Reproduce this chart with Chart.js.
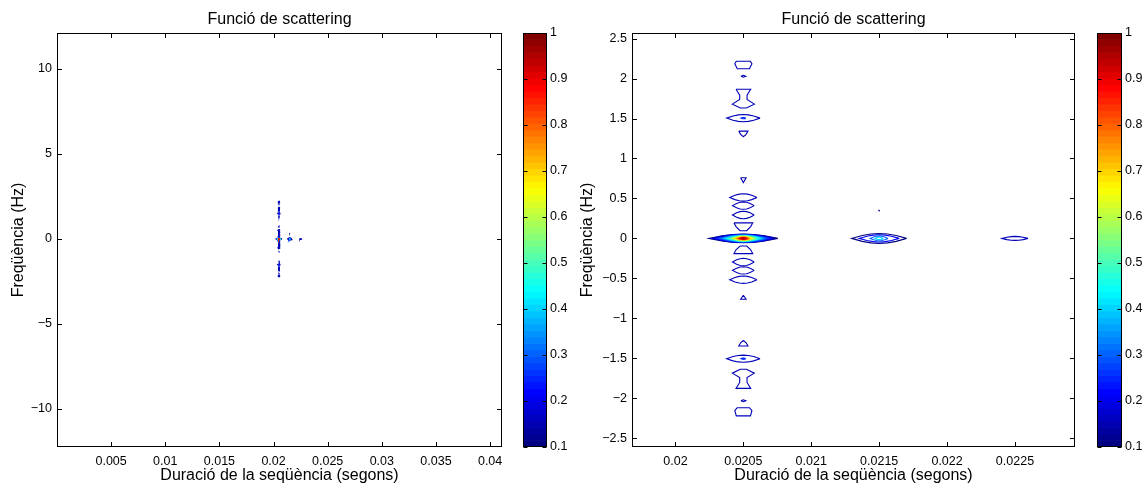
<!DOCTYPE html>
<html>
<head>
<meta charset="utf-8">
<script src="https://cdn.jsdelivr.net/npm/chart.js@4.4.1/dist/chart.umd.min.js"></script>
<style>
  html,body{margin:0;padding:0;background:#fff;}
  body{width:1147px;height:488px;position:relative;overflow:hidden;}
  canvas{position:absolute;top:0;}
</style>
</head>
<body>
<canvas id="leftPlot" width="515" height="488" style="left:0px"></canvas>
<canvas id="leftBar" width="55" height="488" style="left:515px"></canvas>
<canvas id="rightPlot" width="520" height="488" style="left:570px"></canvas>
<canvas id="rightBar" width="57" height="488" style="left:1090px"></canvas>
<script>
// ---------------- DATA ----------------
const plotTitle = 'Funció de scattering';
const xAxisTitle = 'Duració de la seqüència (segons)';
const yAxisTitle = 'Freqüència (Hz)';

// tick values and labels
const leftXTicks = [0.005, 0.01, 0.015, 0.02, 0.025, 0.03, 0.035, 0.04];
const leftXLabels = ['0.005', '0.01', '0.015', '0.02', '0.025', '0.03', '0.035', '0.04'];
const leftYTicks = [-10, -5, 0, 5, 10];
const leftYLabels = ['\u221210', '\u22125', '0', '5', '10'];
const rightXTicks = [0.02, 0.0205, 0.021, 0.0215, 0.022, 0.0225];
const rightXLabels = ['0.02', '0.0205', '0.021', '0.0215', '0.022', '0.0225'];
const rightYTicks = [-2.5, -2, -1.5, -1, -0.5, 0, 0.5, 1, 1.5, 2, 2.5];
const rightYLabels = ['\u22122.5', '\u22122', '\u22121.5', '\u22121', '\u22120.5', '0', '0.5', '1', '1.5', '2', '2.5'];
const colorbarTicks = [0.1, 0.2, 0.3, 0.4, 0.5, 0.6, 0.7, 0.8, 0.9, 1];
const colorbarLabels = ['0.1', '0.2', '0.3', '0.4', '0.5', '0.6', '0.7', '0.8', '0.9', '1'];

// axis ranges
const leftXRange = [0, 0.0411];
const leftYRange = [-12.24, 12.12];
const rightXRange = [0.01968, 0.022942];
const rightYRange = [-2.61, 2.57];
const colorRange = [0.1, 1];

// delays (s) of the three peaks on the zero-Doppler line
const peakDelays = [0.0205, 0.0215, 0.0225];

// main peak (0.0205 s, 0 Hz): contour levels, half-width (µs) and half-height (Hz)
const mainLevels = [0.10, 0.15, 0.20, 0.25, 0.30, 0.35, 0.40, 0.45, 0.50, 0.55, 0.60, 0.65, 0.70, 0.75, 0.80, 0.85, 0.90, 0.95];
const mainHalfWidthUs = [254, 232, 212, 190, 170, 152, 135, 118, 102, 90, 78, 66, 56, 47, 39, 32, 25, 16];
const mainHalfHeightHz = [0.055, 0.052, 0.049, 0.046, 0.043, 0.040, 0.037, 0.034, 0.031, 0.028, 0.025, 0.022, 0.020, 0.017, 0.015, 0.012, 0.010, 0.007];

// second peak (0.0215 s, 0 Hz)
const secondLevels = [0.10, 0.20, 0.30, 0.40];
const secondHalfWidthUs = [202, 147, 66, 30];
const secondHalfHeightHz = [0.062, 0.045, 0.030, 0.015];

// third peak (0.0225 s, 0 Hz)
const thirdLevels = [0.15];
const thirdHalfWidthUs = [96];
const thirdHalfHeightHz = [0.025];

// lens-shaped side lobes along the 0.0205 s column
const lobeCentresHz = [1.505, -1.505, 1.505, -1.505, 0.513, -0.517, 0.41, -0.40, 0.293, -0.296];
const lobeHalfWidthUs = [123, 123, 18, 18, 100, 100, 80, 80, 80, 80];
const lobeHalfHeightHz = [0.045, 0.045, 0.008, 0.008, 0.046, 0.046, 0.046, 0.046, 0.047, 0.047];
const lobeLevels = [0.15, 0.15, 0.25, 0.25, 0.15, 0.15, 0.15, 0.15, 0.15, 0.15];

// irregular side lobes on the 0.0205 s column: [offset µs, frequency Hz]
const shieldUpper = [[-52, 2.217], [52, 2.217], [63, 2.185], [45, 2.122], [-45, 2.122], [-63, 2.185]];
const shieldLower = [[-45, -2.118], [45, -2.118], [63, -2.155], [52, -2.221], [-52, -2.221], [-63, -2.155]];
const dotUpper = [[-18, 2.028], [0, 2.040], [18, 2.028], [0, 2.016]];
const dotLower = [[-18, -2.032], [0, -2.020], [18, -2.032], [0, -2.044]];
const hourglassUpper = [[-54, 1.866], [54, 1.866], [27, 1.792], [27, 1.738], [81, 1.680], [22, 1.632], [-22, 1.632], [-81, 1.680], [-27, 1.738], [-27, 1.792]];
const hourglassLower = [[-22, -1.638], [22, -1.638], [81, -1.686], [27, -1.742], [27, -1.802], [54, -1.876], [-54, -1.876], [-27, -1.802], [-27, -1.742], [-81, -1.686]];
const triangleUpper = [[-34, 1.342], [34, 1.342], [20, 1.302], [0, 1.272], [-20, 1.302]];
const triangleLower = [[0, -1.278], [20, -1.306], [34, -1.346], [-34, -1.346], [-20, -1.306]];
const smallTriUpper = [[-20, 0.758], [20, 0.758], [0, 0.698]];
const smallTriLower = [[0, -0.712], [20, -0.762], [-20, -0.762]];
const bowlUpper = [[-69, 0.194], [69, 0.194], [54, 0.148], [25, 0.096], [-25, 0.096], [-54, 0.148]];
const bowlLower = [[-25, -0.096], [25, -0.096], [54, -0.142], [69, -0.190], [-69, -0.190], [-54, -0.142]];
const irregularOutlines = [shieldUpper, shieldLower, dotUpper, dotLower, hourglassUpper, hourglassLower,
  triangleUpper, triangleLower, smallTriUpper, smallTriLower, bowlUpper, bowlLower];
const irregularLevel = 0.15;

// tiny isolated contour near (0.0215 s, 0.35 Hz)
const speckDelay = [0.0215];
const speckFreq = [0.35];

// ---------------- RENDERING ----------------
const FONT = '"Liberation Sans", Arial, Helvetica, sans-serif';
Chart.defaults.font.family = FONT;
Chart.defaults.color = '#000';

function jetRGB(t) {
  const c = v => Math.max(0, Math.min(1, v));
  const r = c(1.5 - Math.abs(4 * t - 3));
  const g = c(1.5 - Math.abs(4 * t - 2));
  const b = c(1.5 - Math.abs(4 * t - 1));
  return `rgb(${Math.round(r * 255)},${Math.round(g * 255)},${Math.round(b * 255)})`;
}
function levelColor(level) {
  return jetRGB((level - colorRange[0]) / (colorRange[1] - colorRange[0]));
}

// outline template of a lens-shaped contour (unit half-width / half-height)
const lensTemplate = [[1, 0], [0.62, 0.6], [0.3, 0.9], [0, 1], [-0.3, 0.9], [-0.62, 0.6], [-1, 0],
  [-0.62, -0.6], [-0.3, -0.9], [0, -1], [0.3, -0.9], [0.62, -0.6], [1, 0]];
function lens(cx, cy, wUs, hHz) {
  return lensTemplate.map(([u, v]) => ({ x: cx + u * wUs * 1e-6, y: cy + v * hHz }));
}
function outline(cx, pts) {
  const out = pts.map(([dx, f]) => ({ x: cx + dx * 1e-6, y: f }));
  out.push(out[0]);
  return out;
}

const contours = [];
mainLevels.forEach((lv, i) => contours.push({ level: lv, pts: lens(peakDelays[0], 0, mainHalfWidthUs[i], mainHalfHeightHz[i]) }));
secondLevels.forEach((lv, i) => contours.push({ level: lv, pts: lens(peakDelays[1], 0, secondHalfWidthUs[i], secondHalfHeightHz[i]) }));
thirdLevels.forEach((lv, i) => contours.push({ level: lv, pts: lens(peakDelays[2], 0, thirdHalfWidthUs[i], thirdHalfHeightHz[i]) }));
lobeCentresHz.forEach((f, i) => contours.push({ level: lobeLevels[i], pts: lens(peakDelays[0], f, lobeHalfWidthUs[i], lobeHalfHeightHz[i]) }));
irregularOutlines.forEach(o => contours.push({ level: irregularLevel, pts: outline(peakDelays[0], o) }));
speckDelay.forEach((d, i) => contours.push({ level: 0.1, pts: lens(d, speckFreq[i], 3, 0.005) }));
contours.sort((a, b) => b.level - a.level);

// plugin: axes box + inward tick marks on all sides (MATLAB style)
const boxTicks = {
  id: 'boxTicks',
  afterDraw(chart, args, opts) {
    const { ctx, chartArea } = chart;
    const x0 = Math.round(chartArea.left) + 0.5, x1 = Math.round(chartArea.right) - 0.5;
    const y0 = Math.round(chartArea.top) + 0.5, y1 = Math.round(chartArea.bottom) - 0.5;
    const L = opts.len || 4.5;
    ctx.save();
    ctx.strokeStyle = '#000';
    ctx.lineWidth = 1;
    ctx.beginPath();
    if (opts.xScale) {
      const xs = chart.scales[opts.xScale];
      xs.ticks.forEach(t => {
        const p = Math.round(xs.getPixelForValue(t.value)) + 0.5;
        ctx.moveTo(p, y1); ctx.lineTo(p, y1 - L);
        ctx.moveTo(p, y0); ctx.lineTo(p, y0 + L);
      });
    }
    if (opts.yScale) {
      const ys = chart.scales[opts.yScale];
      ys.ticks.forEach(t => {
        const p = Math.round(ys.getPixelForValue(t.value)) + 0.5;
        ctx.moveTo(x0, p); ctx.lineTo(x0 + L, p);
        ctx.moveTo(x1, p); ctx.lineTo(x1 - L, p);
      });
    }
    ctx.stroke();
    ctx.strokeRect(x0, y0, x1 - x0, y1 - y0);
    ctx.restore();
  }
};
Chart.register(boxTicks);

const TICK_FONT = { family: FONT, size: 12.5 };
const LABEL_FONT = { family: FONT, size: 16 };

function contourChart(id, cfg) {
  const datasets = contours.map(c => ({
    data: c.pts,
    showLine: true,
    borderColor: levelColor(c.level),
    backgroundColor: levelColor(c.level),
    borderWidth: 1.1,
    pointRadius: 0,
    pointHoverRadius: 0,
    fill: false,
    tension: 0
  }));
  return new Chart(document.getElementById(id), {
    type: 'scatter',
    data: { datasets },
    options: {
      responsive: false,
      animation: false,
      events: [],
      layout: { padding: { left: 0, right: cfg.padRight, top: 0, bottom: 0 } },
      plugins: {
        legend: { display: false },
        tooltip: { enabled: false },
        title: {
          display: true, text: plotTitle, fullSize: false, color: '#000',
          font: { family: FONT, size: 16, weight: 'normal' },
          padding: { top: 10, bottom: 3.8 }
        },
        boxTicks: { xScale: 'x', yScale: 'y', len: 4.5 }
      },
      scales: {
        x: {
          type: 'linear', position: 'bottom', min: cfg.xRange[0], max: cfg.xRange[1],
          grid: { display: false, drawTicks: false }, border: { display: false },
          afterBuildTicks: s => { s.ticks = cfg.xTicks.map(v => ({ value: v })); },
          ticks: { callback: (v, i) => cfg.xLabels[i], font: TICK_FONT, color: '#000', padding: 7.5, maxRotation: 0, autoSkip: false },
          title: { display: true, text: xAxisTitle, font: LABEL_FONT, color: '#000', padding: { top: 0, bottom: 2.4 } },
          afterFit: s => { s.height = 41; }
        },
        y: {
          type: 'linear', position: 'left', min: cfg.yRange[0], max: cfg.yRange[1],
          grid: { display: false, drawTicks: false }, border: { display: false },
          afterBuildTicks: s => { s.ticks = cfg.yTicks.map(v => ({ value: v })); },
          ticks: { callback: (v, i) => cfg.yLabels[i], font: TICK_FONT, color: '#000', padding: 5, autoSkip: false },
          title: { display: true, text: yAxisTitle, font: LABEL_FONT, color: '#000', padding: { top: cfg.yTitlePad, bottom: 0 } },
          afterFit: s => { s.width = cfg.yWidth; }
        }
      }
    }
  });
}

function colorbarChart(id, padLeft, axisWidth) {
  const nBands = 64;
  const bandLabels = [], bandColors = [], bandSpan = [];
  for (let i = 0; i < nBands; i++) {
    bandLabels.push(String(i));
    bandColors.push(jetRGB(i / (nBands - 1)));
    bandSpan.push(1);
  }
  return new Chart(document.getElementById(id), {
    type: 'bar',
    data: {
      labels: bandLabels,
      datasets: [{ data: bandSpan, backgroundColor: bandColors, borderWidth: 0, barPercentage: 1, categoryPercentage: 1 }]
    },
    options: {
      indexAxis: 'y',
      responsive: false,
      animation: false,
      events: [],
      layout: { padding: { left: padLeft, right: 0, top: 33, bottom: 41 } },
      plugins: {
        legend: { display: false },
        tooltip: { enabled: false },
        boxTicks: { yScale: 'cb', len: 4 }
      },
      scales: {
        y: { type: 'category', display: false, reverse: true, offset: true },
        x: { type: 'linear', display: false, min: 0, max: 1 },
        cb: {
          type: 'linear', axis: 'y', position: 'right', min: colorRange[0], max: colorRange[1],
          offset: false,
          grid: { display: false, drawTicks: false, offset: false }, border: { display: false },
          afterBuildTicks: s => { s.ticks = colorbarTicks.map(v => ({ value: v })); },
          ticks: { callback: (v, i) => colorbarLabels[i], font: TICK_FONT, color: '#000', padding: 3, autoSkip: false },
          afterFit: s => { s.width = axisWidth; }
        }
      }
    }
  });
}

contourChart('leftPlot', {
  xRange: leftXRange, yRange: leftYRange, xTicks: leftXTicks, xLabels: leftXLabels,
  yTicks: leftYTicks, yLabels: leftYLabels, padRight: 13, yWidth: 57, yTitlePad: 9.4
});
contourChart('rightPlot', {
  xRange: rightXRange, yRange: rightYRange, xTicks: rightXTicks, xLabels: rightXLabels,
  yTicks: rightYTicks, yLabels: rightYLabels, padRight: 15, yWidth: 62, yTitlePad: 8.4
});
colorbarChart('leftBar', 8, 23);
colorbarChart('rightBar', 7, 25);
</script>
</body>
</html>
